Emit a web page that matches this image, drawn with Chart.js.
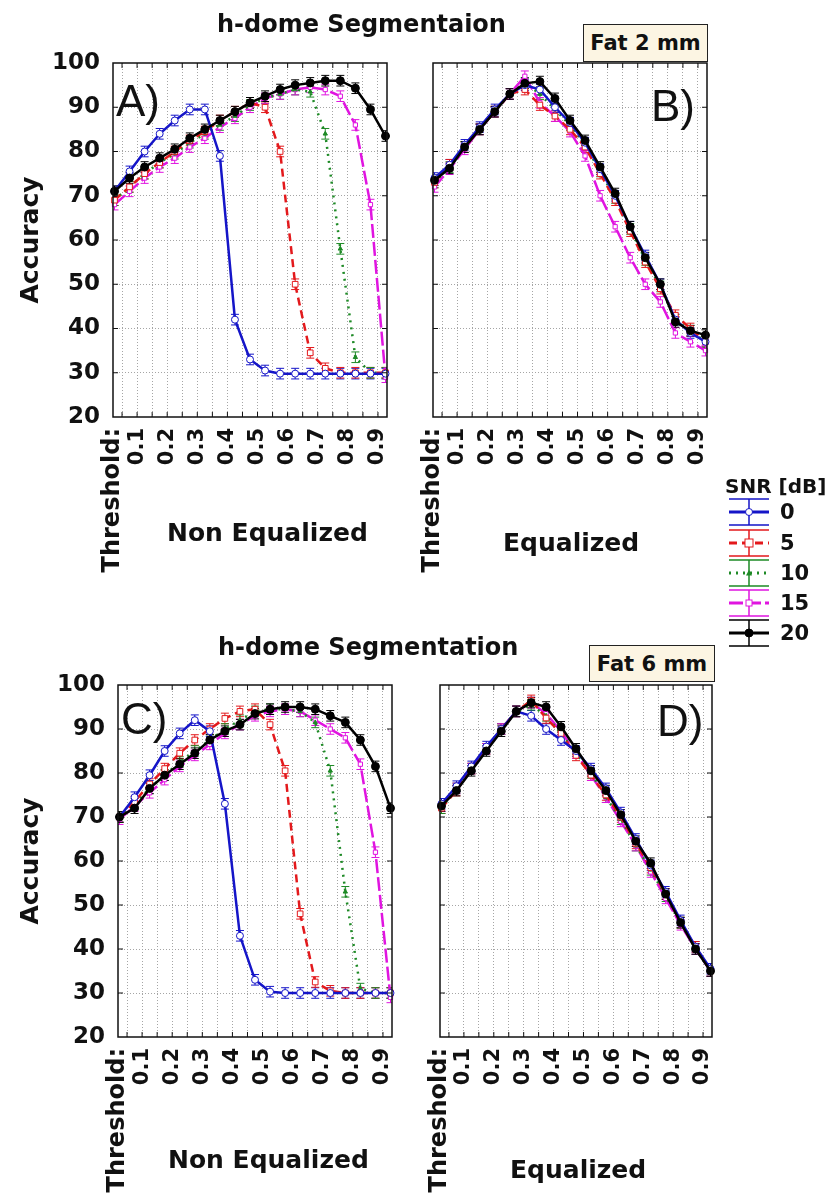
<!DOCTYPE html>
<html>
<head>
<meta charset="utf-8">
<script src="https://cdn.jsdelivr.net/npm/chart.js@4.4.1/dist/chart.umd.min.js"></script>
<style>
body { margin:0; background:#fff; width:840px; height:1200px; position:relative; overflow:hidden; font-family:'DejaVu Sans', sans-serif; color:#111; }
canvas { position:absolute; }
.txt { position:absolute; font-weight:bold; white-space:nowrap; line-height:1; }
.panel { position:absolute; font-family:'Liberation Sans', Arial, sans-serif; font-size:44px; line-height:1; }
.fat { position:absolute; border:1.5px solid #222; background:#fcf5e3; font-weight:bold; font-size:21px; display:flex; align-items:center; justify-content:center; box-sizing:border-box; }
.leg { position:absolute; }
</style>
</head>
<body>
<canvas id="chartA" width="410" height="600" style="left:0;top:0"></canvas>
<canvas id="chartB" width="320" height="600" style="left:410px;top:0"></canvas>
<canvas id="chartC" width="410" height="600" style="left:0;top:600px"></canvas>
<canvas id="chartD" width="320" height="600" style="left:410px;top:600px"></canvas>

<div class="txt" style="left:217px;top:12px;font-size:24px">h-dome Segmentaion</div>
<div class="txt" style="left:218px;top:635px;font-size:24px">h-dome Segmentation</div>
<div class="fat" style="left:583px;top:24px;width:125px;height:38px">Fat 2 mm</div>
<div class="fat" style="left:589px;top:645px;width:126px;height:37px">Fat 6 mm</div>
<div class="panel" style="left:116px;top:79px">A)</div>
<div class="panel" style="left:651px;top:84px">B)</div>
<div class="panel" style="left:121px;top:697px">C)</div>
<div class="panel" style="left:657px;top:699px">D)</div>
<div class="txt" style="left:167px;top:520px;font-size:25px">Non Equalized</div>
<div class="txt" style="left:503px;top:530px;font-size:25px">Equalized</div>
<div class="txt" style="left:168px;top:1147px;font-size:25px">Non Equalized</div>
<div class="txt" style="left:510px;top:1157px;font-size:25px">Equalized</div>
<div class="txt" style="left:725px;top:476px;font-size:20px">SNR [dB]</div>
<div id="legend"></div>

<script>
// thresholds (x) and tick labels
const THRESHOLDS = [0.025, 0.075, 0.125, 0.175, 0.225, 0.275, 0.325, 0.375, 0.425, 0.475, 0.525, 0.575, 0.625, 0.675, 0.725, 0.775, 0.825, 0.875, 0.925];
const X_TICK_VALUES = [0.02, 0.05, 0.1, 0.15, 0.2, 0.25, 0.3, 0.35, 0.4, 0.45, 0.5, 0.55, 0.6, 0.65, 0.7, 0.75, 0.8, 0.85, 0.9];
const X_TICK_LABELS = ['Threshold:', '', '0.1', '', '0.2', '', '0.3', '', '0.4', '', '0.5', '', '0.6', '', '0.7', '', '0.8', '', '0.9'];
const SNR_LABELS = ['0', '5', '10', '15', '20'];
const ERR = 1.2; // error bar half height

// A) Fat 2 mm, non equalized
const A_SNR0 = [71, 75.5, 80, 84, 87, 89.5, 89.5, 79, 42, 33, 30.5, 29.8, 29.8, 29.8, 29.8, 29.8, 29.8, 29.8, 29.8];
const A_SNR5 = [69, 72, 75, 77.5, 80, 82.5, 84.5, 87, 89, 91, 90, 80, 50, 34.5, 31, 30, 30, 30, 30];
const A_SNR10 = [69, 72, 75, 77.5, 79.5, 82, 84, 86, 88, 90.5, 92, 93, 94, 93.5, 84, 58, 33.5, 30, 30];
const A_SNR15 = [68, 71, 74, 76.5, 78.5, 81, 83, 85.5, 87.5, 90, 92, 93, 94, 94.5, 94, 92.5, 86, 68, 29];
const A_SNR20 = [71, 74, 76.5, 78.5, 80.5, 83, 85, 87, 89, 91, 92.5, 94, 95, 95.5, 96, 96, 94.3, 89.5, 83.5];

// B) Fat 2 mm, equalized
const B_SNR0 = [74, 77, 81.5, 85.5, 89.5, 93, 95, 94, 90, 86.5, 82, 76, 70, 63, 56.5, 50, 42, 39, 37];
const B_SNR5 = [73, 77, 81, 85, 89, 93, 94, 90.5, 88, 85, 81, 75, 69, 62, 55, 49, 43, 40, 37];
const B_SNR10 = [73, 76.5, 81, 85, 89, 93, 95.5, 93, 89.5, 86, 81.5, 75.5, 69.5, 62.5, 55.5, 49.5, 42, 39.5, 37];
const B_SNR15 = [72, 76, 80.5, 85, 89, 93, 97, 91, 88, 84.5, 79, 70, 63, 56, 50, 46, 39, 37, 35];
const B_SNR20 = [73.5, 76.2, 81, 85, 89, 93, 95.4, 95.8, 92, 87, 82.5, 76.5, 70.5, 63, 56, 50, 41.5, 39.5, 38.5];

// C) Fat 6 mm, non equalized
const C_SNR0 = [70, 74.5, 79.5, 85, 89, 92, 89.5, 73, 43, 33, 30.3, 30, 30, 30, 30, 30, 30, 30, 30];
const C_SNR5 = [70, 73.5, 77.5, 81, 84.5, 87.5, 90, 92.4, 94, 94.5, 91, 80.5, 48, 32.5, 30.5, 30, 30, 30, 30];
const C_SNR10 = [70, 73, 76.5, 79.5, 82.5, 85, 87.5, 90, 92, 94, 94.5, 94.5, 94, 91.5, 80.5, 53, 31, 30, 30];
const C_SNR15 = [69.5, 72.5, 75.5, 78.5, 81.5, 84, 86.5, 89, 91, 93, 94, 94.5, 94, 92, 90, 88, 82, 62, 29];
const C_SNR20 = [70, 72, 76.5, 79.5, 82, 84.5, 87.5, 89.5, 91, 93.5, 94.5, 95, 95, 94.5, 93, 91.5, 87.5, 81.5, 72];

// D) Fat 6 mm, equalized
const D_SNR0 = [73, 77, 81.5, 86, 90, 94, 93, 90, 87.5, 85, 81, 76.5, 71, 65, 59, 53, 46.5, 40.5, 35.5];
const D_SNR5 = [72, 76, 81, 85.5, 90, 94, 96.5, 92.5, 89, 84, 79.5, 75, 70, 64, 58.5, 52.5, 46, 40.5, 35];
const D_SNR10 = [72, 76.5, 81, 85.5, 90, 94, 95.5, 93, 89, 84.5, 80, 74.5, 69.5, 63.5, 58, 52, 46, 40, 35];
const D_SNR15 = [72.5, 76.5, 81, 85.5, 90, 94, 96, 93.5, 89.5, 84.5, 79.5, 74.5, 69, 63.5, 57.5, 51.5, 45.5, 40, 35];
const D_SNR20 = [72.5, 76, 80.5, 85, 89.5, 94, 96, 95, 90.5, 85.5, 80.5, 76, 70.5, 64.5, 59.5, 52.5, 46, 40, 35];

// line / marker style for each SNR level
const STYLES = [
	{ color: '#1515c8', dash: [], marker: 'circle', radius: 3.5, fill: '#fff', order: 1 },
	{ color: '#e3191c', dash: [8, 5], marker: 'rect', radius: 4, fill: '#fff', order: 2 },
	{ color: '#1e8a26', dash: [2, 5], marker: 'triangle', radius: 2.5, fill: '#1e8a26', order: 3 },
	{ color: '#e014e0', dash: [14, 4], marker: 'rect', radius: 3, fill: '#fff', order: 4 },
	{ color: '#000000', dash: [], marker: 'circle', radius: 4, fill: '#000', order: 0 }
];
const CAP = 4;
const BOLD = 'DejaVu Sans';

// error bars drawn under the markers
const errorBars = {
	id: 'errorBars',
	beforeDatasetsDraw(chart) {
		const { ctx, chartArea: a, scales: { y } } = chart;
		ctx.save();
		ctx.beginPath();
		ctx.rect(a.left, a.top, a.right - a.left, a.bottom - a.top);
		ctx.clip();
		ctx.lineWidth = 1;
		chart.data.datasets.forEach((ds, di) => {
			const meta = chart.getDatasetMeta(di);
			ctx.strokeStyle = ds.borderColor;
			ctx.beginPath();
			meta.data.forEach((pt, i) => {
				const top = y.getPixelForValue(ds.data[i] + ERR);
				const bot = y.getPixelForValue(ds.data[i] - ERR);
				ctx.moveTo(pt.x, top); ctx.lineTo(pt.x, bot);
				ctx.moveTo(pt.x - CAP, top); ctx.lineTo(pt.x + CAP, top);
				ctx.moveTo(pt.x - CAP, bot); ctx.lineTo(pt.x + CAP, bot);
			});
			ctx.stroke();
		});
		ctx.restore();
	}
};

// box around the plot with inward ticks
const frame = {
	id: 'frame',
	afterDatasetsDraw(chart) {
		const { ctx, chartArea: a, scales: { x, y } } = chart;
		ctx.save();
		ctx.strokeStyle = '#111';
		ctx.lineWidth = 1.5;
		ctx.strokeRect(a.left, a.top, a.right - a.left, a.bottom - a.top);
		ctx.lineWidth = 1;
		ctx.beginPath();
		X_TICK_VALUES.slice(1).forEach(v => {
			const px = x.getPixelForValue(v);
			ctx.moveTo(px, a.bottom); ctx.lineTo(px, a.bottom - 5);
			ctx.moveTo(px, a.top); ctx.lineTo(px, a.top + 5);
		});
		for (let v = 30; v < 100; v += 10) {
			const py = y.getPixelForValue(v);
			ctx.moveTo(a.left, py); ctx.lineTo(a.left + 5, py);
			ctx.moveTo(a.right, py); ctx.lineTo(a.right - 5, py);
		}
		ctx.stroke();
		ctx.restore();
	}
};

function makePanel(id, area, series, showY) {
	const canvas = document.getElementById(id);
	const datasets = series.map((vals, i) => ({
		label: SNR_LABELS[i],
		data: vals,
		borderColor: STYLES[i].color,
		borderWidth: 2.5,
		borderDash: STYLES[i].dash,
		pointStyle: STYLES[i].marker,
		pointRadius: STYLES[i].radius,
		pointBackgroundColor: STYLES[i].fill,
		pointBorderColor: STYLES[i].color,
		pointBorderWidth: 1,
		tension: 0,
		clip: 8,
		order: STYLES[i].order
	}));
	return new Chart(canvas, {
		type: 'line',
		data: { labels: THRESHOLDS, datasets: datasets },
		options: {
			responsive: false,
			animation: false,
			layout: { padding: { left: 0, top: area.top, right: canvas.width - area.right, bottom: 0 } },
			plugins: { legend: { display: false }, tooltip: { enabled: false } },
			scales: {
				x: {
					type: 'linear',
					min: 0.02,
					max: 0.93,
					afterBuildTicks: (s) => { s.ticks = X_TICK_VALUES.map(v => ({ value: v })); },
					afterFit: (s) => { s.height = canvas.height - area.bottom; s.paddingLeft = 0; s.paddingRight = 0; },
					ticks: {
						autoSkip: false,
						minRotation: 90,
						maxRotation: 90,
						padding: 11,
						color: '#111',
						font: (ctx) => ({ family: BOLD, weight: 'bold', size: ctx.index === 0 ? 24 : 21 }),
						callback: (v, i) => X_TICK_LABELS[i]
					},
					grid: {
						drawTicks: false,
						lineWidth: 1,
						color: (ctx) => ctx.index === 0 ? 'rgba(0,0,0,0)' : '#a5a5a5'
					},
					border: { display: false, dash: [1, 2] }
				},
				y: {
					min: 20,
					max: 100,
					afterFit: (s) => { s.width = area.left; s.paddingTop = 0; s.paddingBottom = 0; },
					ticks: {
						display: showY,
						stepSize: 10,
						padding: 13,
						color: '#111',
						font: { family: BOLD, weight: 'bold', size: 23 }
					},
					title: {
						display: showY,
						text: 'Accuracy',
						color: '#111',
						font: { family: BOLD, weight: 'bold', size: 25 },
						padding: { top: 16, bottom: 0 }
					},
					grid: {
						drawTicks: false,
						lineWidth: 1,
						color: (ctx) => (ctx.tick.value === 20 || ctx.tick.value === 100) ? 'rgba(0,0,0,0)' : '#a5a5a5'
					},
					border: { display: false, dash: [1, 2] }
				}
			}
		},
		plugins: [errorBars, frame]
	});
}

makePanel('chartA', { left: 113, top: 63, right: 387, bottom: 417 }, [A_SNR0, A_SNR5, A_SNR10, A_SNR15, A_SNR20], true);
makePanel('chartB', { left: 23, top: 63, right: 297, bottom: 417 }, [B_SNR0, B_SNR5, B_SNR10, B_SNR15, B_SNR20], false);
makePanel('chartC', { left: 118, top: 85, right: 392, bottom: 437 }, [C_SNR0, C_SNR5, C_SNR10, C_SNR15, C_SNR20], true);
makePanel('chartD', { left: 30, top: 85, right: 302, bottom: 437 }, [D_SNR0, D_SNR5, D_SNR10, D_SNR15, D_SNR20], false);

// legend: symbol with error bar, line style and marker
function markerSvg(st) {
	const r = st.radius;
	if (st.marker === 'circle') return `<circle cx="22" cy="15" r="${r}" fill="${st.fill}" stroke="${st.color}" stroke-width="1"/>`;
	if (st.marker === 'rect') return `<rect x="${22 - r}" y="${15 - r}" width="${2 * r}" height="${2 * r}" fill="${st.fill}" stroke="${st.color}" stroke-width="1"/>`;
	return `<polygon points="22,${15 - r * 1.3} ${22 + r * 1.2},${15 + r} ${22 - r * 1.2},${15 + r}" fill="${st.fill}"/>`;
}
const LEGEND_ROWS = [512, 543, 573, 603, 633];
let html = '';
STYLES.forEach((st, i) => {
	const cy = LEGEND_ROWS[i];
	html += `<svg class="leg" style="left:727px;top:${cy - 15}px" width="44" height="30">` +
		`<path d="M2 2H42M2 28H42M22 2V28" stroke="${st.color}" stroke-width="1.5" fill="none"/>` +
		`<path d="M2 15H42" stroke="${st.color}" stroke-width="3" stroke-dasharray="${st.dash.join(' ')}" fill="none"/>` +
		markerSvg(st) + `</svg>` +
		`<div class="txt" style="left:780px;top:${cy - 10}px;font-size:21px">${SNR_LABELS[i]}</div>`;
});
document.getElementById('legend').innerHTML = html;
</script>
</body>
</html>
